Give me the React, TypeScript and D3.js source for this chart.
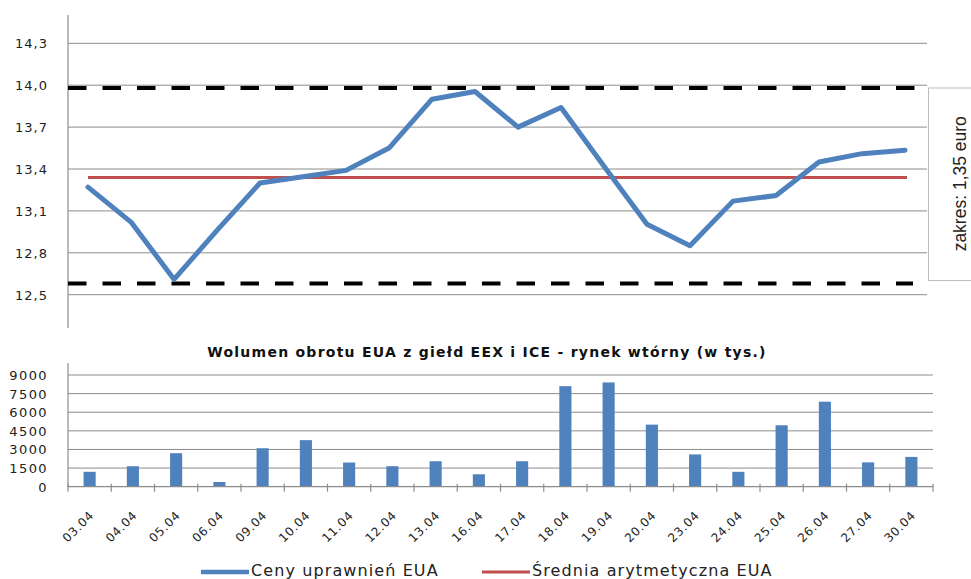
import * as d3 from "d3";
import { useEffect, useRef } from "react";

// notowania EUA, kwiecień
const dates = ["03.04", "04.04", "05.04", "06.04", "09.04", "10.04", "11.04", "12.04", "13.04", "16.04",
  "17.04", "18.04", "19.04", "20.04", "23.04", "24.04", "25.04", "26.04", "27.04", "30.04"];
const prices = [13.27, 13.02, 12.61, 12.96, 13.3, 13.345, 13.39, 13.55, 13.9, 13.955,
  13.7, 13.84, 13.42, 13.005, 12.85, 13.17, 13.21, 13.45, 13.51, 13.535];
const volumes = [1200, 1650, 2700, 380, 3100, 3750, 1950, 1650, 2050, 1000,
  2050, 8100, 8400, 5000, 2600, 1200, 4950, 6850, 1960, 2400];
const priceTicks = [12.5, 12.8, 13.1, 13.4, 13.7, 14.0, 14.3];
const volumeTicks = [0, 1500, 3000, 4500, 6000, 7500, 9000];
const meanPrice = 13.34;
const rangeMax = 13.98;
const rangeMin = 12.58;

const FONT = "'DejaVu Sans', Verdana, sans-serif";
const BLUE = "#4f81bd";
const RED = "#c0504d";
const GRID = "#8c8c8c";

const App = () => {
  const ref = useRef(null);

  useEffect(() => {
    d3.select(ref.current).selectAll("*").remove();
    const svg = d3.select(ref.current);

    // ---- górny wykres: ceny ----
    const x = d3.scalePoint().domain(dates).range([88, 905]);
    const y = d3.scaleLinear().domain([12.5, 14.3]).range([294.7, 43.3]);

    svg.append("g")
      .selectAll("line")
      .data(priceTicks)
      .join("line")
      .attr("x1", 68).attr("x2", 927)
      .attr("y1", (d) => y(d)).attr("y2", (d) => y(d))
      .attr("stroke", GRID).attr("stroke-width", 1);

    svg.append("g")
      .selectAll("text")
      .data(priceTicks)
      .join("text")
      .attr("x", 48).attr("y", (d) => y(d) + 5)
      .attr("text-anchor", "end")
      .attr("font-family", FONT).attr("font-size", 13)
      .attr("letter-spacing", 1)
      .attr("fill", "#222")
      .text((d) => d3.format(".1f")(d).replace(".", ","));

    svg.append("line")
      .attr("x1", 68).attr("x2", 68).attr("y1", 15).attr("y2", 328)
      .attr("stroke", GRID).attr("stroke-width", 1.2);

    // zakres box
    svg.append("rect")
      .attr("x", 928.5).attr("y", y(rangeMax)).attr("width", 60)
      .attr("height", y(rangeMin) - y(rangeMax) - 3)
      .attr("fill", "white").attr("stroke", "#bdbdbd");
    svg.append("text")
      .attr("transform", `translate(966, ${(y(rangeMax) + y(rangeMin)) / 2 - 2}) rotate(-90)`)
      .attr("text-anchor", "middle")
      .attr("font-family", "'Liberation Sans Narrow', 'Liberation Sans', Arial, sans-serif")
      .attr("font-size", 17.5)
      .attr("fill", "#222")
      .text("zakres: 1,35 euro");

    // linie zakresu
    svg.append("line")
      .attr("x1", 68).attr("x2", 928).attr("y1", y(rangeMax)).attr("y2", y(rangeMax))
      .attr("stroke", "#000").attr("stroke-width", 4).attr("stroke-dasharray", "18.5 16");
    svg.append("line")
      .attr("x1", 68).attr("x2", 913).attr("y1", y(rangeMin)).attr("y2", y(rangeMin))
      .attr("stroke", "#000").attr("stroke-width", 4).attr("stroke-dasharray", "18.5 16");

    // średnia
    svg.append("line")
      .attr("x1", x(dates[0])).attr("x2", x(dates[dates.length - 1]) + 2)
      .attr("y1", y(meanPrice)).attr("y2", y(meanPrice))
      .attr("stroke", RED).attr("stroke-width", 3);

    const line = d3.line().x((d, i) => x(dates[i])).y((d) => y(d));
    svg.append("path")
      .datum(prices)
      .attr("d", line)
      .attr("fill", "none")
      .attr("stroke", BLUE).attr("stroke-width", 5)
      .attr("stroke-linejoin", "round").attr("stroke-linecap", "round");

    // ---- dolny wykres: wolumen ----
    const xb = d3.scaleBand().domain(dates).range([68, 933]).paddingInner(0.72).paddingOuter(0.36);
    const xTick = d3.scaleBand().domain(dates).range([68, 933]);
    const yb = d3.scaleLinear().domain([0, 9000]).range([486.7, 375]);

    svg.append("text")
      .attr("x", 487).attr("y", 357)
      .attr("text-anchor", "middle")
      .attr("font-family", FONT).attr("font-size", 14).attr("font-weight", "bold")
      .attr("letter-spacing", 1.25)
      .attr("fill", "#111")
      .text("Wolumen obrotu EUA z giełd EEX i ICE - rynek wtórny (w tys.)");

    svg.append("g")
      .selectAll("line")
      .data(volumeTicks.slice(1))
      .join("line")
      .attr("x1", 68).attr("x2", 933)
      .attr("y1", (d) => yb(d)).attr("y2", (d) => yb(d))
      .attr("stroke", GRID).attr("stroke-width", 1);

    svg.append("g")
      .selectAll("text")
      .data(volumeTicks)
      .join("text")
      .attr("x", 48).attr("y", (d) => yb(d) + 5)
      .attr("text-anchor", "end")
      .attr("font-family", FONT).attr("font-size", 13)
      .attr("letter-spacing", 1.4)
      .attr("fill", "#222")
      .text((d) => d);

    svg.append("g")
      .selectAll("rect")
      .data(volumes)
      .join("rect")
      .attr("x", (d, i) => xb(dates[i]))
      .attr("y", (d) => yb(d))
      .attr("width", xb.bandwidth())
      .attr("height", (d) => yb(0) - yb(d))
      .attr("fill", BLUE);

    svg.append("line")
      .attr("x1", 68).attr("x2", 68).attr("y1", 363).attr("y2", yb(0))
      .attr("stroke", GRID).attr("stroke-width", 1.2);
    svg.append("line")
      .attr("x1", 68).attr("x2", 933).attr("y1", yb(0)).attr("y2", yb(0))
      .attr("stroke", GRID).attr("stroke-width", 1.2);

    svg.append("g")
      .selectAll("line")
      .data([...dates.map((d) => xTick(d)), 933])
      .join("line")
      .attr("x1", (d) => d).attr("x2", (d) => d)
      .attr("y1", yb(0) - 3).attr("y2", yb(0) + 5)
      .attr("stroke", GRID).attr("stroke-width", 1.2);

    svg.append("g")
      .selectAll("text")
      .data(dates)
      .join("text")
      .attr("transform", (d) => `translate(${xb(d) + xb.bandwidth() / 2 + 5}, 516) rotate(-45)`)
      .attr("text-anchor", "end")
      .attr("font-family", FONT).attr("font-size", 12)
      .attr("letter-spacing", 0.8)
      .attr("fill", "#222")
      .text((d) => d);

    // legenda
    const legend = [
      { label: "Ceny uprawnień EUA", color: BLUE, width: 4.5, x: 201 },
      { label: "Średnia arytmetyczna EUA", color: RED, width: 3, x: 482 },
    ];
    const lg = svg.append("g").selectAll("g").data(legend).join("g");
    lg.append("line")
      .attr("x1", (d) => d.x).attr("x2", (d) => d.x + 48)
      .attr("y1", 572).attr("y2", 572)
      .attr("stroke", (d) => d.color).attr("stroke-width", (d) => d.width);
    lg.append("text")
      .attr("x", (d) => d.x + 50).attr("y", 576)
      .attr("font-family", FONT).attr("font-size", 16)
      .attr("letter-spacing", 1.1)
      .attr("fill", "#222")
      .text((d) => d.label);
  }, []);

  return (
    <svg
      ref={ref}
      width={971}
      height={579}
      style={{ position: "absolute", left: 0, top: 0, background: "white" }}
    />
  );
};

export default App;
